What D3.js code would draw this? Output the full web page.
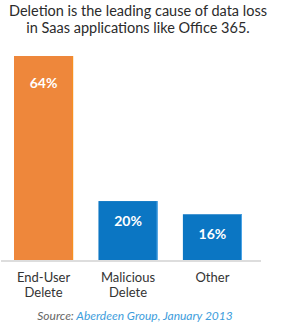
<!DOCTYPE html>
<html>
<head>
<meta charset="utf-8">
<script src="https://cdn.jsdelivr.net/npm/d3@7"></script>
<style>
  html, body { margin: 0; padding: 0; background: #fff; }
  svg { display: block; font-family: Lato, "Open Sans", sans-serif; }
</style>
</head>
<body>
<div id="chart"></div>
<script>
const titleLines = ["Deletion is the leading cause of data loss", "in Saas applications like Office 365."];
const categories = [["End-User", "Delete"], ["Malicious", "Delete"], ["Other"]];
const values = [64, 20, 16];
const labels = ["64%", "20%", "16%"];
const fills = ["#ee873b", "#0b76c3", "#0b76c3"];
const edges = ["#f7901e", "#4aa3e6", "#4aa3e6"];

const W = 284, H = 328, baseY = 261;

const svg = d3.select("#chart").append("svg")
    .attr("width", W).attr("height", H);

// titre, une ligne par élément texte
svg.selectAll("text.title").data(titleLines).enter().append("text")
    .attr("class", "title")
    .attr("x", 138).attr("y", (d, i) => 16 + i * 16.5)
    .attr("text-anchor", "middle")
    .style("font-size", "14.5px").attr("fill", "#2b2b2b")
    .text(d => d);

const x = d3.scaleBand().domain(d3.range(values.length))
    .range([14, 242]).paddingInner(0.3);
const y = d3.scaleLinear().domain([0, 64]).range([267, 56]);

// ligne de base
svg.append("rect").attr("x", 1).attr("y", baseY - 1)
    .attr("width", 260).attr("height", 2).attr("fill", "#dddddd");

const bars = svg.selectAll("g.bar").data(values).enter().append("g").attr("class", "bar");

bars.append("rect")
    .attr("x", (d, i) => x(i))
    .attr("y", d => y(d))
    .attr("width", x.bandwidth())
    .attr("height", d => baseY - 1 - y(d))
    .attr("fill", (d, i) => fills[i]);

// bordure droite plus claire
bars.append("rect")
    .attr("x", (d, i) => x(i) + x.bandwidth() - 1)
    .attr("y", d => y(d))
    .attr("width", 1)
    .attr("height", d => baseY - 1 - y(d))
    .attr("fill", (d, i) => edges[i]);

bars.append("text")
    .attr("x", (d, i) => x(i) + x.bandwidth() / 2)
    .attr("y", d => y(d) + 22 + 0.05 * (baseY - y(d)))
    .attr("text-anchor", "middle")
    .style("font-size", "14px").style("font-weight", "bold")
    .attr("fill", "#fff")
    .text((d, i) => labels[i]);

// catégories
svg.selectAll("text.cat").data(categories).enter().append("text")
    .attr("class", "cat")
    .attr("text-anchor", "middle")
    .style("font-size", "13px").attr("fill", "#333")
    .each(function(d, i) {
        d3.select(this).selectAll("tspan").data(d).enter().append("tspan")
            .attr("x", x(i) + x.bandwidth() / 2)
            .attr("y", (t, j) => 282 + j * 15)
            .text(t => t);
    });

// source
const src = svg.append("text")
    .attr("x", 135).attr("y", 320)
    .attr("text-anchor", "middle")
    .style("font-size", "12px").style("font-style", "italic");
src.append("tspan").attr("fill", "#666").text("Source:  ");
src.append("tspan").attr("fill", "#3d9ddc").text("Aberdeen Group, January 2013");
</script>
</body>
</html>
